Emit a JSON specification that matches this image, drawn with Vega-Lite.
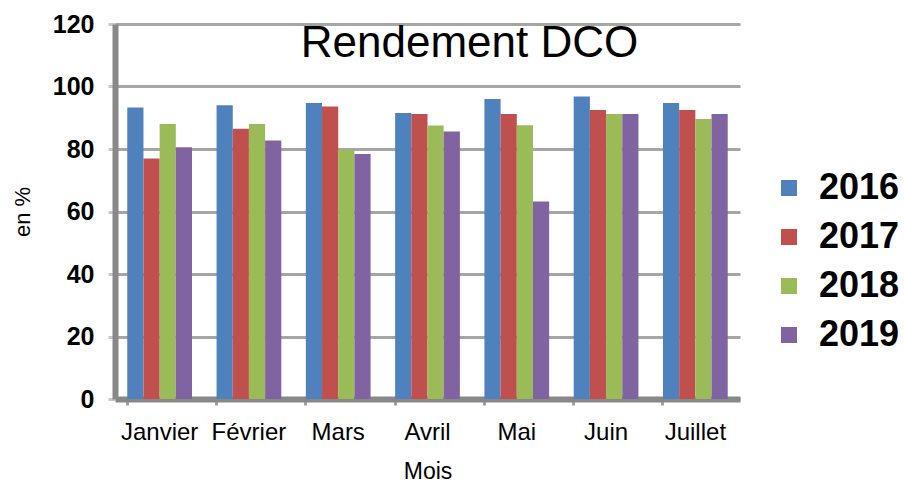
{
  "$schema": "https://vega.github.io/schema/vega-lite/v6.json",
  "width": 625,
  "height": 375,
  "autosize": {"type": "none"},
  "padding": {"left": 115, "top": 24, "right": 164, "bottom": 87},
  "background": "white",
  "title": {
    "text": "Rendement DCO",
    "font": "Liberation Sans",
    "fontSize": 44,
    "fontWeight": "normal",
    "color": "#000000",
    "anchor": "middle",
    "frame": "group",
    "offset": -54,
    "dx": 42
  },
  "data": {
    "values": [
      {"Mois": "Janvier", "Annee": "2016", "Valeur": 93.3},
      {"Mois": "Janvier", "Annee": "2017", "Valeur": 77},
      {"Mois": "Janvier", "Annee": "2018", "Valeur": 88},
      {"Mois": "Janvier", "Annee": "2019", "Valeur": 80.6},
      {"Mois": "Février", "Annee": "2016", "Valeur": 94},
      {"Mois": "Février", "Annee": "2017", "Valeur": 86.5},
      {"Mois": "Février", "Annee": "2018", "Valeur": 88},
      {"Mois": "Février", "Annee": "2019", "Valeur": 82.7},
      {"Mois": "Mars", "Annee": "2016", "Valeur": 94.7},
      {"Mois": "Mars", "Annee": "2017", "Valeur": 93.6},
      {"Mois": "Mars", "Annee": "2018", "Valeur": 79.8},
      {"Mois": "Mars", "Annee": "2019", "Valeur": 78.4},
      {"Mois": "Avril", "Annee": "2016", "Valeur": 91.5},
      {"Mois": "Avril", "Annee": "2017", "Valeur": 91.2},
      {"Mois": "Avril", "Annee": "2018", "Valeur": 87.5},
      {"Mois": "Avril", "Annee": "2019", "Valeur": 85.6},
      {"Mois": "Mai", "Annee": "2016", "Valeur": 96},
      {"Mois": "Mai", "Annee": "2017", "Valeur": 91.2},
      {"Mois": "Mai", "Annee": "2018", "Valeur": 87.6},
      {"Mois": "Mai", "Annee": "2019", "Valeur": 63.2},
      {"Mois": "Juin", "Annee": "2016", "Valeur": 96.8},
      {"Mois": "Juin", "Annee": "2017", "Valeur": 92.5},
      {"Mois": "Juin", "Annee": "2018", "Valeur": 91.2},
      {"Mois": "Juin", "Annee": "2019", "Valeur": 91.2},
      {"Mois": "Juillet", "Annee": "2016", "Valeur": 94.7},
      {"Mois": "Juillet", "Annee": "2017", "Valeur": 92.5},
      {"Mois": "Juillet", "Annee": "2018", "Valeur": 89.6},
      {"Mois": "Juillet", "Annee": "2019", "Valeur": 91.2}
    ]
  },
  "mark": {"type": "bar"},
  "encoding": {
    "x": {
      "field": "Mois",
      "type": "nominal",
      "sort": ["Janvier", "Février", "Mars", "Avril", "Mai", "Juin", "Juillet"],
      "scale": {"paddingInner": 0.275, "paddingOuter": 0.1375},
      "axis": {
        "title": "Mois",
        "titleFont": "Liberation Sans",
        "titleFontSize": 23,
        "titleFontWeight": "normal",
        "titleColor": "#000000",
        "titlePadding": 16,
        "labelFont": "Liberation Sans",
        "labelFontSize": 24,
        "labelColor": "#000000",
        "labelAngle": 0,
        "labelPadding": 15,
        "bandPosition": 0,
        "ticks": true,
        "tickSize": 6,
        "tickWidth": 3,
        "tickColor": "#a0a0a0",
        "domainColor": "#888888",
        "domainWidth": 6,
        "grid": false
      }
    },
    "xOffset": {"field": "Annee", "type": "nominal"},
    "y": {
      "field": "Valeur",
      "type": "quantitative",
      "scale": {"domain": [0, 120]},
      "axis": {
        "title": "en %",
        "titleFont": "Liberation Sans",
        "titleFontSize": 22,
        "titleFontWeight": "normal",
        "titleColor": "#000000",
        "titlePadding": 18,
        "labelFont": "Liberation Sans",
        "labelFontSize": 25,
        "labelFontWeight": "bold",
        "labelColor": "#000000",
        "labelPadding": 14,
        "values": [0, 20, 40, 60, 80, 100, 120],
        "tickSize": 7,
        "tickWidth": 3,
        "tickColor": "#c8c8c8",
        "domainColor": "#888888",
        "domainWidth": 6,
        "grid": true,
        "gridColor": "#a6a6a6",
        "gridWidth": 3
      }
    },
    "color": {
      "field": "Annee",
      "type": "nominal",
      "scale": {
        "domain": ["2016", "2017", "2018", "2019"],
        "range": ["#4f81bd", "#c0504d", "#9bbb59", "#8064a2"]
      },
      "legend": {
        "title": null,
        "orient": "none",
        "legendX": 656,
        "legendY": 146,
        "padding": 0,
        "symbolType": "square",
        "symbolSize": 256,
        "symbolStrokeWidth": 0,
        "labelFont": "Liberation Sans",
        "labelFontSize": 36,
        "labelFontWeight": "bold",
        "labelColor": "#000000",
        "labelOffset": 12,
        "rowPadding": 13
      }
    }
  },
  "config": {
    "view": {"stroke": null}
  }
}
